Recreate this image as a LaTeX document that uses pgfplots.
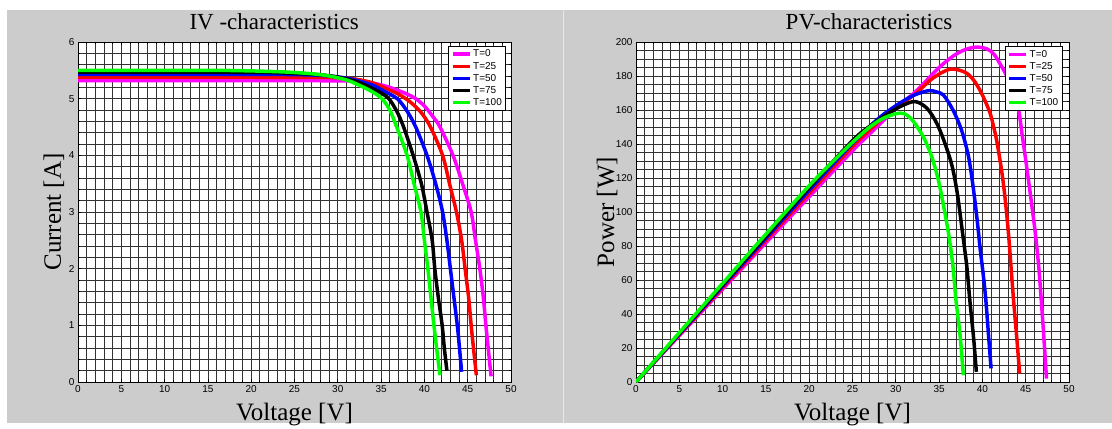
\documentclass[border=0pt]{standalone}
\usepackage{fontspec}
\setmainfont{Liberation Serif}
\newfontfamily\arialf{Liberation Sans}
\usepackage{pgfplots}
\pgfplotsset{compat=1.18}
\definecolor{figgray}{RGB}{204,204,204}
\definecolor{sepgray}{RGB}{232,232,232}
\definecolor{mag}{RGB}{255,0,255}
\definecolor{grn}{RGB}{0,255,0}

\pgfplotsset{
  panel/.style={
    scale only axis, width=433pt, height=340pt, anchor=south west,
    axis background/.style={fill=white},
    xmin=0, xmax=50, xtick={0,5,...,50}, minor x tick num=4,
    grid=both,
    major grid style={black!80, line width=0.8pt},
    minor grid style={black!80, line width=0.8pt},
    axis line style={black, line width=0.8pt},
    tick style={black, line width=0.8pt},
    major tick length=3pt, minor tick length=2pt,
    tick align=inside,
    ticklabel style={font=\arialf\fontsize{10}{10}\selectfont},
    /pgf/number format/assume math mode=true,
    title style={font=\fontsize{23}{23}\selectfont, anchor=base, yshift=6pt},
    xlabel style={font=\fontsize{25}{25}\selectfont, at={(axis description cs:0.5,0)}, anchor=base, yshift=-38pt},
    ylabel style={font=\fontsize{25}{25}\selectfont, anchor=base},
    legend cell align=left,
    legend style={font=\arialf\fontsize{10}{11}\selectfont, draw=black, line width=0.8pt,
      fill=white, anchor=north east, inner sep=2pt, row sep=0pt,
      nodes={inner sep=1.8pt}},
    legend image code/.code={\draw[#1, line width=3.5pt] (0pt,0pt) -- (17pt,0pt);},
    every axis plot/.append style={line width=3.5pt, smooth, line join=round},
  }
}

\begin{document}
\begin{tikzpicture}
\path (0pt,0pt) rectangle (1112pt,423pt);
\fill[figgray] (7pt,0pt) rectangle (1112pt,413pt);
\draw[sepgray, line width=1pt] (563pt,0pt) -- (563pt,413pt);

% current-voltage panel
\begin{axis}[panel, at={(78pt,41pt)},
  ymin=0, ymax=6, ytick={0,1,...,6}, minor y tick num=4,
  title={IV -characteristics}, title style={at={(axis description cs:0.453,1)}},
  xlabel={Voltage [V]}, ylabel={Current [A]},
  ylabel style={at={(axis description cs:-0.0393,0.5)}},
  legend style={at={(axis description cs:0.9885,0.989)}},
]
\addplot[mag] coordinates {(0,5.32) (10,5.32) (20,5.318) (30,5.315) (32,5.305) (34,5.275) (36,5.2) (38,5.08) (39,5.0) (40,4.87) (41,4.68) (41.8,4.5) (43.3,4.0) (44.4,3.5) (45.4,3.0) (45.9,2.5) (46.4,2.0) (46.8,1.5) (47.1,1.0) (47.4,0.55) (47.7,0.1)};
\addplot[red] coordinates {(0,5.38) (20,5.378) (28,5.375) (30,5.37) (32,5.345) (34,5.28) (36,5.15) (37,5.08) (38.3,4.95) (39.6,4.76) (40.7,4.5) (42.1,4.0) (42.9,3.5) (43.7,3.0) (44.3,2.5) (44.7,2.0) (45.1,1.5) (45.4,1.0) (45.7,0.55) (46.0,0.12)};
\addplot[blue] coordinates {(0,5.43) (20,5.428) (25,5.425) (28,5.41) (30,5.385) (32,5.33) (34,5.24) (35,5.16) (36,5.08) (36.95,4.99) (38,4.78) (39.0,4.5) (40.3,4.0) (41.3,3.5) (42.1,3.0) (42.6,2.5) (43.0,2.0) (43.4,1.5) (43.8,1.0) (44.05,0.6) (44.3,0.18)};
\addplot[black] coordinates {(0,5.47) (20,5.465) (25,5.445) (28,5.42) (30,5.38) (32,5.31) (33,5.25) (34,5.18) (35,5.1) (35.9,5.0) (36.8,4.78) (37.6,4.5) (38.7,4.0) (39.65,3.5) (40.3,3.0) (40.9,2.5) (41.2,2.0) (41.6,1.5) (42.05,1.0) (42.3,0.6) (42.6,0.2)};
\addplot[grn] coordinates {(0,5.5) (15,5.5) (20,5.49) (24,5.47) (27,5.44) (29,5.4) (31,5.33) (32,5.27) (33,5.2) (34,5.12) (35.1,5.0) (36,4.8) (36.8,4.5) (38.0,4.0) (38.8,3.5) (39.6,3.0) (40.0,2.5) (40.4,2.0) (40.75,1.5) (41.1,1.0) (41.45,0.55) (41.8,0.12)};
\legend{T=0,T=25,T=50,T=75,T=100}
\end{axis}

% power-voltage panel
\begin{axis}[panel, at={(636pt,41pt)},
  ymin=0, ymax=200, ytick={0,20,...,200}, minor y tick num=3,
  title={PV-characteristics}, title style={at={(axis description cs:0.538,1)}},
  xlabel={Voltage [V]}, ylabel={Power [W]},
  ylabel style={at={(axis description cs:-0.0508,0.5)}},
  legend style={at={(axis description cs:0.985,0.988)}},
]
\addplot[mag] coordinates {(0,0) (5,27.3) (10,54.6) (15,81.9) (20,109) (25,136) (28,151) (30,161) (32,169.5) (33.2,175.5) (35,185) (36.7,192) (38,195.5) (39.3,197) (40.5,196) (41.3,193) (42,187.5) (43,178) (44.1,162) (44.6,145) (45.1,127) (45.6,108) (46.1,88) (46.5,68) (46.8,48) (47.1,26) (47.4,2)};
\addplot[red] coordinates {(0,0) (5,27.8) (10,55.6) (15,83.4) (20,111) (25,138.5) (28,153) (30,161.5) (32.1,168.8) (34,177.6) (35.3,182) (36.3,184) (37.3,183.5) (38.2,181.6) (39,177.5) (39.7,171.8) (40.3,165.5) (40.9,158) (41.3,150) (41.65,142) (42.2,125) (42.6,109) (43.0,88) (43.3,68) (43.6,48) (44.0,24) (44.3,5)};
\addplot[blue] coordinates {(0,0) (5,28.2) (10,56.4) (15,84.6) (20,112.8) (25,140.5) (28,155) (30,162.5) (32,168.5) (33.8,171.4) (34.7,170.6) (35.5,168.8) (36.6,160) (37.6,148) (38.4,132.5) (38.95,114) (39.4,95) (39.75,78) (40.1,63) (40.4,48) (40.7,28) (41.0,8)};
\addplot[black] coordinates {(0,0) (5,28.6) (10,57.2) (15,85.8) (20,114.4) (25,142) (27,150.5) (29,157.5) (30.5,162) (32.2,165) (33.6,161) (34.75,152) (35.7,140) (36.5,127) (37.1,111) (37.7,88) (38.2,68) (38.55,48) (39.0,25) (39.3,6)};
\addplot[grn] coordinates {(0,0) (5,29) (10,58) (15,87) (20,115.5) (23,131) (25,141) (27,150) (28.5,155) (30,157.8) (31,157.8) (32,153.5) (33.2,144) (34.15,132.5) (34.9,119) (35.5,104) (36.1,87) (36.6,68) (36.95,48) (37.4,28.6) (37.8,4)};
\legend{T=0,T=25,T=50,T=75,T=100}
\end{axis}
\end{tikzpicture}
\end{document}
